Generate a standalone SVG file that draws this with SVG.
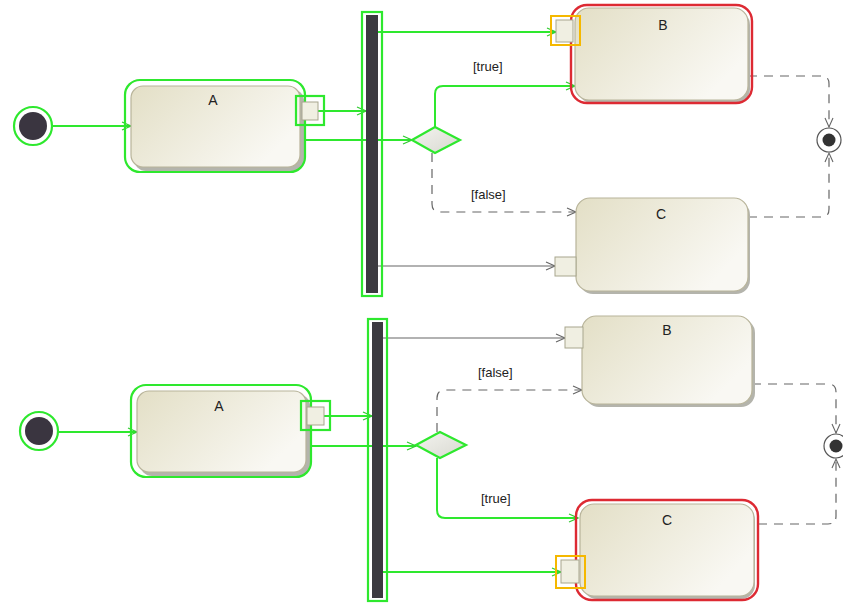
<svg xmlns="http://www.w3.org/2000/svg" width="843" height="604" viewBox="0 0 843 604">
<defs>
<linearGradient id="nf" x1="0" y1="0" x2="1" y2="0.5">
<stop offset="0" stop-color="#e3dfc6"/>
<stop offset="1" stop-color="#f9f8f3"/>
</linearGradient>
<linearGradient id="df" x1="0" y1="0" x2="1" y2="1">
<stop offset="0" stop-color="#f4f4f0"/>
<stop offset="1" stop-color="#d8d8d0"/>
</linearGradient>
<marker id="ag" markerWidth="12" markerHeight="12" refX="10" refY="5" orient="auto" markerUnits="userSpaceOnUse">
<path d="M1,1 L10,5 L1,9" fill="none" stroke="#33cc33" stroke-width="1.3"/>
</marker>
<marker id="ak" markerWidth="12" markerHeight="12" refX="10" refY="5" orient="auto" markerUnits="userSpaceOnUse">
<path d="M1,1 L10,5 L1,9" fill="none" stroke="#666" stroke-width="1.1"/>
</marker>
</defs>
<style>
.node{fill:url(#nf);stroke:#b8b49a;stroke-width:1.2}
.shadow{fill:#b4b4ac}
.hl{fill:none;stroke:#2ee82e;stroke-width:2.2}
.red{fill:none;stroke:#dd2a33;stroke-width:2.4}
.org{fill:none;stroke:#f5b800;stroke-width:2}
.pin{fill:#f0efe2;stroke:#a8a68e;stroke-width:1}
.bar{fill:#3c3a40}
.g{fill:none;stroke:#2ee82e;stroke-width:2}
.k{fill:none;stroke:#666;stroke-width:1.2}
.d{fill:none;stroke:#666;stroke-width:1.2;stroke-dasharray:9,7}
.lbl{font-family:"Liberation Sans",Arial,sans-serif;font-size:14px;fill:#222;text-anchor:middle}
.t{font-family:"Liberation Sans",Arial,sans-serif;font-size:13px;fill:#222}
</style>

<g id="connectors">
<line class="g" x1="52" y1="126" x2="131" y2="126" marker-end="url(#ag)"/>
<line class="g" x1="318" y1="111" x2="366" y2="111" marker-end="url(#ag)"/>
<line class="g" x1="300" y1="140" x2="412" y2="140" marker-end="url(#ag)"/>
<line class="g" x1="378" y1="32" x2="556" y2="32" marker-end="url(#ag)"/>
<path class="g" d="M435,127 V94 Q435,86 443,86 H575" marker-end="url(#ag)"/>
<path class="d" d="M432,153 V204 Q432,212 440,212 H576" marker-end="url(#ak)"/>
<line class="k" x1="378" y1="266" x2="555" y2="266" marker-end="url(#ak)"/>
<path class="d" d="M748,76 H822 Q829,76 829,84 V127" marker-end="url(#ak)"/>
<path class="d" d="M748,217 H822 Q829,217 829,209 V153" marker-end="url(#ak)"/>
<text class="t" x="473" y="71">[true]</text>
<text class="t" x="471" y="199">[false]</text>
<line class="g" x1="58" y1="432" x2="137" y2="432" marker-end="url(#ag)"/>
<line class="g" x1="324" y1="416" x2="372" y2="416" marker-end="url(#ag)"/>
<line class="g" x1="306" y1="446" x2="416" y2="446" marker-end="url(#ag)"/>
<line class="k" x1="383" y1="338" x2="565" y2="338" marker-end="url(#ak)"/>
<path class="d" d="M437,432 V398 Q437,390 445,390 H582" marker-end="url(#ak)"/>
<path class="g" d="M437,458 V510 Q437,518 445,518 H578" marker-end="url(#ag)"/>
<line class="g" x1="383" y1="572" x2="561" y2="572" marker-end="url(#ag)"/>
<path class="d" d="M752,384 H828 Q836,384 836,392 V433" marker-end="url(#ak)"/>
<path class="d" d="M758,524 H828 Q836,524 836,516 V459" marker-end="url(#ak)"/>
<text class="t" x="478" y="377">[false]</text>
<text class="t" x="481" y="503">[true]</text>
</g>

<g id="init1">
<circle cx="33" cy="126" r="19" fill="none" stroke="#2ee82e" stroke-width="2.2"/>
<circle cx="33" cy="126" r="14" fill="#3a3540"/>
</g>
<g id="A1">
<rect class="shadow" x="134" y="89" width="170" height="82" rx="12"/>
<rect class="node" x="131" y="86" width="169" height="81" rx="12"/>
<rect class="hl" x="125" y="80" width="180" height="92" rx="15"/>
<text class="lbl" x="213" y="105">A</text>
<rect class="pin" x="302" y="102" width="16" height="18" fill="#e0eef0"/>
<rect class="hl" x="296" y="96" width="28" height="29"/>
</g>
<g id="fork1">
<rect class="bar" x="366" y="15" width="12" height="278"/>
<rect class="hl" x="362" y="12" width="20" height="284"/>
</g>
<g id="dec1">
<polygon points="412,140 435,127 460,140 435,153" fill="url(#df)" stroke="#2ee82e" stroke-width="2.2"/>
</g>
<g id="B1">
<rect class="shadow" x="578" y="11" width="172" height="92" rx="14"/>
<rect class="node" x="575" y="8" width="173" height="92" rx="14"/>
<rect class="red" x="571" y="5" width="181" height="98" rx="16"/>
<text class="lbl" x="663" y="30">B</text>
<rect class="pin" x="556" y="20" width="17" height="22"/>
<rect class="org" x="551" y="16" width="29" height="29"/>
</g>
<g id="C1">
<rect class="shadow" x="579" y="201" width="171" height="93" rx="14"/>
<rect class="node" x="576" y="198" width="172" height="93" rx="14"/>
<text class="lbl" x="661" y="219">C</text>
<rect class="pin" x="555" y="257" width="21" height="19"/>
</g>
<g id="final1">
<circle cx="829" cy="140" r="12" fill="#fff" stroke="#555" stroke-width="1.2"/>
<circle cx="829" cy="140" r="6.5" fill="#333"/>
</g>

<g id="init2">
<circle cx="39" cy="431" r="19" fill="none" stroke="#2ee82e" stroke-width="2.2"/>
<circle cx="39" cy="431" r="14" fill="#3a3540"/>
</g>
<g id="A2">
<rect class="shadow" x="140" y="394" width="170" height="82" rx="12"/>
<rect class="node" x="137" y="391" width="169" height="81" rx="12"/>
<rect class="hl" x="131" y="385" width="180" height="92" rx="15"/>
<text class="lbl" x="219" y="411">A</text>
<rect class="pin" x="307" y="407" width="17" height="18" fill="#f0e6d8"/>
<rect class="hl" x="301" y="401" width="29" height="29"/>
</g>
<g id="fork2">
<rect class="bar" x="372" y="322" width="11" height="276"/>
<rect class="hl" x="368" y="319" width="19" height="282"/>
</g>
<g id="dec2">
<polygon points="416,445 440,432 466,445 440,458" fill="url(#df)" stroke="#2ee82e" stroke-width="2.2"/>
</g>
<g id="B2">
<rect class="shadow" x="585" y="319" width="170" height="88" rx="14"/>
<rect class="node" x="582" y="316" width="170" height="88" rx="14"/>
<text class="lbl" x="667" y="335">B</text>
<rect class="pin" x="565" y="327" width="18" height="21"/>
</g>
<g id="C2">
<rect class="shadow" x="583" y="507" width="172" height="92" rx="14"/>
<rect class="node" x="580" y="504" width="174" height="92" rx="14"/>
<rect class="red" x="576" y="500" width="182" height="100" rx="16"/>
<text class="lbl" x="667" y="525">C</text>
<rect class="pin" x="561" y="560" width="18" height="23"/>
<rect class="org" x="556" y="556" width="29" height="32"/>
</g>
<g id="final2">
<circle cx="836" cy="446" r="12" fill="#fff" stroke="#555" stroke-width="1.2"/>
<circle cx="836" cy="446" r="6.5" fill="#333"/>
</g>
</svg>
